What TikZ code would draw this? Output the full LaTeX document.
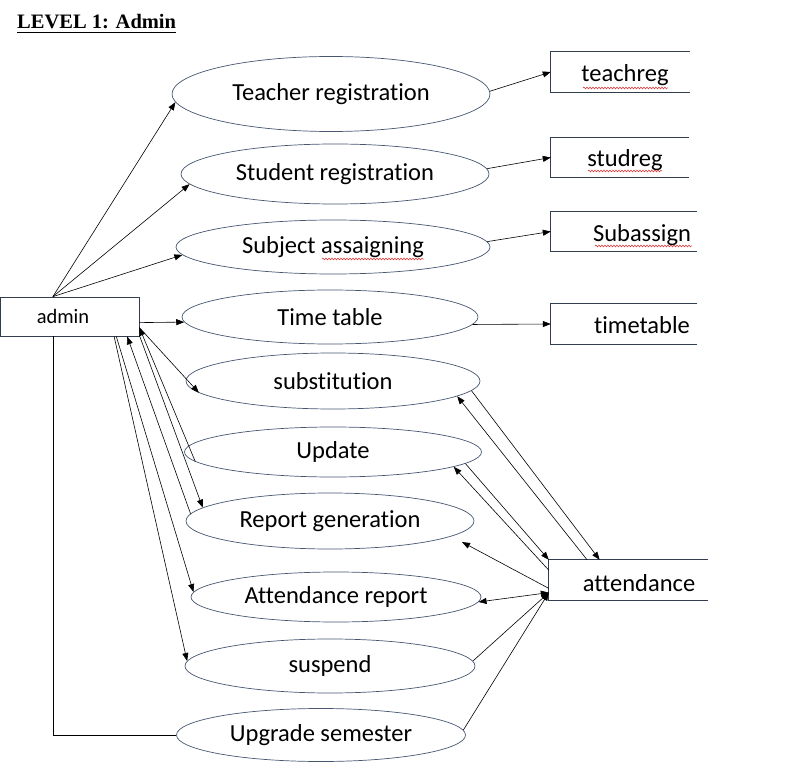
\documentclass[tikz,border=0pt]{standalone}
\usepackage{fontspec}
\setmainfont{Carlito}[Ligatures=NoCommon]
\newfontfamily\titlefont{Liberation Serif}
\usetikzlibrary{arrows.meta,shapes.geometric,decorations.pathmorphing,calc}
\definecolor{ellcol}{RGB}{70,86,112}
\definecolor{boxcol}{RGB}{50,62,80}
\definecolor{squig}{RGB}{215,40,40}
\begin{document}
\begin{tikzpicture}[x=1pt,y=-1pt,
  proc/.style={ellipse,draw=ellcol,line width=0.7pt,inner sep=0pt,font=\fontsize{24.5}{27}\selectfont},
  storebox/.style={rectangle,draw=none,inner sep=0pt},
  lbl/.style={inner sep=0pt,font=\fontsize{24.5}{27}\selectfont},
  conn/.style={line width=0.6pt,-{Triangle[length=8pt,width=6pt]}},
  conn2/.style={line width=0.6pt,{Triangle[length=8pt,width=6pt]}-{Triangle[length=8pt,width=6pt]}},
  plain/.style={line width=0.6pt},
  wavy/.style={draw=squig,line width=0.5pt,decorate,decoration={snake,amplitude=0.9pt,segment length=3pt}}
]
\useasboundingbox (0,0) rectangle (788,781);

% title
\node[anchor=base west,inner sep=0pt,font=\titlefont\bfseries\fontsize{20.5}{24}\selectfont] (title) at (17,29) {LEVEL 1: Admin};
\draw[line width=1.2pt] ($(title.base west)+(0,3.5)$) coordinate (ulA) -- ($(title.base east)+(0,3.5)$) coordinate (ulB);

% processes
\node[proc,minimum width=318pt,minimum height=75pt] (tr)  at (331,94)  {Teacher registration};
\node[proc,minimum width=308pt,minimum height=60pt] (sr)  at (335,174) {Student registration};
\node[proc,minimum width=314pt,minimum height=54pt] (sa)  at (333,247) {Subject assaigning};
\node[proc,minimum width=296pt,minimum height=54pt] (tt)  at (330,317) {Time table};
\node[proc,minimum width=294pt,minimum height=56pt] (sub) at (333,381) {substitution};
\node[proc,minimum width=297pt,minimum height=50pt] (upd) at (333,452) {Update};
\node[proc,minimum width=288pt,minimum height=56pt] (rg)  at (330,521) {Report generation};
\node[proc,minimum width=290pt,minimum height=50pt] (ar)  at (336,597) {Attendance report};
\node[proc,minimum width=290pt,minimum height=54pt] (sus) at (330,666) {suspend};
\node[proc,minimum width=289pt,minimum height=53pt] (ups) at (321,735) {Upgrade semester};

% admin entity
\node[rectangle,draw=boxcol,line width=0.7pt,minimum width=139pt,minimum height=39pt,inner sep=0pt] (admin) at (69.5,316.5) {};
\node[lbl,font=\fontsize{20.5}{23}\selectfont] (admintxt) at (63,316) {admin};

% data stores (open right side)
\node[storebox,minimum width=139pt,minimum height=40pt] (teachreg) at (620.5,72) {};
\node[storebox,minimum width=138pt,minimum height=39pt] (studreg)  at (620,157.5) {};
\node[storebox,minimum width=146pt,minimum height=39pt] (subassign) at (624,231.5) {};
\node[storebox,minimum width=146pt,minimum height=40pt] (timetable) at (624,324) {};
\node[storebox,minimum width=159pt,minimum height=40pt] (att) at (628.5,580) {};
\foreach \n in {teachreg,studreg,subassign,timetable,att}
  \draw[boxcol,line width=0.7pt] (\n.north east) -- (\n.north west) -- (\n.south west) -- (\n.south east);

\node[lbl] (teachregtxt)  at (625,75)  {teachreg};
\node[lbl] (studregtxt)   at (625,160) {studreg};
\node[lbl] (subassigntxt) at (642,235) {Subassign};
\node[lbl] (timetabletxt) at (642,325) {timetable};
\node[lbl] (atttxt)       at (639,583) {attendance};

% spell-check squiggles
\draw[wavy] (583,88) -- (668,88);
\draw[wavy] (588,171) -- (662,171);
\draw[wavy] (595,246) -- (692,246);
\draw[wavy] (322,259) -- (424,259);

% admin -> processes
\draw[conn] (admin.130) -- (tr.183);
\draw[conn] (admin.130) -- (sr.184);
\draw[conn] (admin.130) -- (sa.183);
\draw[conn] (admin.355) -- (tt.182);
\draw[conn] (admin.351) -- (sub.185);
\draw[conn] (upd.184) -- (admin.351);
\draw[conn] (admin.345) -- (rg.174);
\draw[conn] (rg.177) -- (admin.341);
\draw[conn] (admin.337) -- (ar.178);
\draw[conn] (admin.336) -- (sus.178);
\draw[plain] (admin.230) |- (ups.west);

% processes -> data stores
\draw[conn] (tr.1) -- (teachreg.west);
\draw[conn] (sr.2) -- (studreg.west);
\draw[conn] (sa.2) -- (subassign.west);
\draw[conn] (tt.357) -- (timetable.west);

% attendance links
\coordinate (rgpt) at ($(rg.center)+(132,21)$);
\draw[conn] (sub.356) -- (att.145);
\draw[conn] (att.154) -- (sub.353);
\draw[conn] (upd.355) -- (att.north west);
\draw[conn] (att.173) -- (upd.353);
\draw[conn] (att.186) -- (rgpt);
\draw[conn2] (ar.358) -- (att.189);
\draw[conn] (sus.2) -- (att.189);
\draw[conn] (ups.2) -- (att.189);
\end{tikzpicture}
\end{document}
